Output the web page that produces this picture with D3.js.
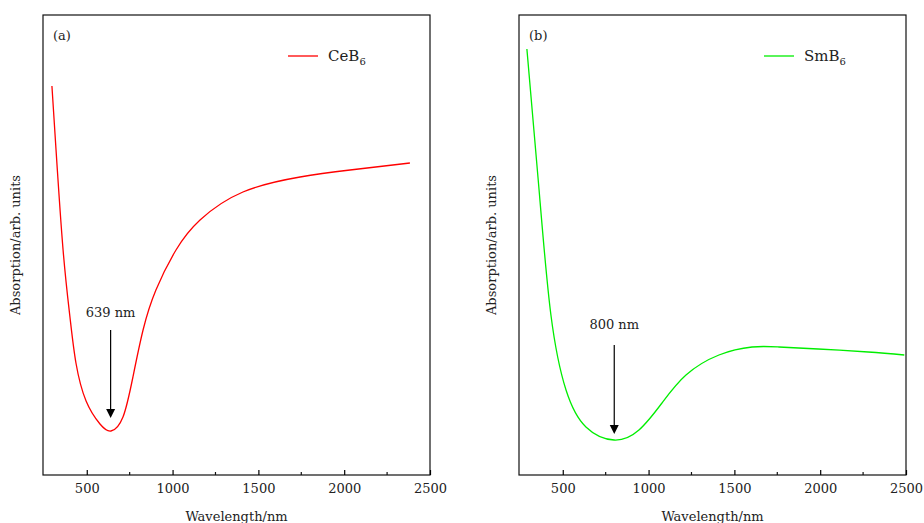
<!DOCTYPE html>
<html><head><meta charset="utf-8">
<script src="https://cdn.jsdelivr.net/npm/d3@7"></script>
<style>body{margin:0;background:#fff}text{font-family:"DejaVu Serif",serif;fill:#222}</style>
</head><body><div id="chart"></div>
<script>
// curve samples (wavelength nm, signal in px-units 0..460)
var ceWl  = [297, 321, 362, 402, 437, 496, 577, 641, 711, 769, 828, 903, 1020, 1160, 1410, 1743, 2034, 2383];
var ceVal = [389, 325, 225, 158, 112, 74, 51, 44, 58, 98, 145, 185, 225, 255, 283, 298, 305, 312];
var smWl  = [291, 362, 431, 519, 635, 799, 944, 1078, 1218, 1410, 1603, 1760, 1988, 2279, 2490];
var smVal = [426, 285, 160, 85, 48, 35, 45, 72, 100, 120, 128, 128, 126, 123, 120];
var xTicks = [500, 1000, 1500, 2000, 2500];
var minorTicks = [750, 1250, 1750, 2250];

var svg = d3.select("#chart").append("svg").attr("width", 924).attr("height", 523);

var panels = [
  {left: 43, right: 430, tag: "(a)", wl: ceWl, val: ceVal, color: "#ff0000", name: "Ce", min: 639, lab: "639 nm", labY: 317, arrTop: 330, arrBot: 418, ylabX: 20},
  {left: 519, right: 906, tag: "(b)", wl: smWl, val: smVal, color: "#00ee00", name: "Sm", min: 800, lab: "800 nm", labY: 329, arrTop: 345, arrBot: 434, ylabX: 496}
];
var plotTop = 15, plotBottom = 475;
var y = d3.scaleLinear().domain([0, 460]).range([plotBottom, plotTop]);

panels.forEach(function(p) {
  var x = d3.scaleLinear().domain([245, 2500]).range([p.left, p.right]);
  var g = svg.append("g");

  var line = d3.line().curve(d3.curveNatural)
    .x(function(d) { return x(d[0]); })
    .y(function(d) { return y(d[1]); });
  g.append("path").datum(d3.zip(p.wl, p.val))
    .attr("d", line).attr("fill", "none").attr("stroke", p.color).attr("stroke-width", 1.3);

  g.append("rect").attr("x", p.left).attr("y", plotTop)
    .attr("width", p.right - p.left).attr("height", plotBottom - plotTop)
    .attr("fill", "none").attr("stroke", "#111").attr("stroke-width", 1.2);

  var ax = g.append("g").attr("transform", "translate(0," + plotBottom + ")")
    .call(d3.axisBottom(x).tickValues(xTicks).tickFormat(d3.format("d")).tickSizeInner(-5).tickSizeOuter(0).tickPadding(9));
  ax.select(".domain").remove();
  ax.selectAll("text").attr("font-size", 13).style("font-family", "DejaVu Serif");
  ax.selectAll(".tick line").attr("stroke-width", 1.2);
  g.selectAll(".minor").data(minorTicks).enter().append("line")
    .attr("x1", x).attr("x2", x).attr("y1", plotBottom).attr("y2", plotBottom - 3)
    .attr("stroke", "#111").attr("stroke-width", 1.2);

  g.append("text").attr("x", (p.left + p.right) / 2).attr("y", 521)
    .attr("text-anchor", "middle").attr("font-size", 13).text("Wavelength/nm");
  g.append("text").attr("transform", "translate(" + p.ylabX + "," + 245 + ")rotate(-90)")
    .attr("text-anchor", "middle").attr("font-size", 13).text("Absorption/arb. units");
  g.append("text").attr("x", p.left + 10).attr("y", 40).attr("font-size", 13).text(p.tag);

  // legend
  g.append("line").attr("x1", p.left + 245).attr("x2", p.left + 275)
    .attr("y1", 56).attr("y2", 56).attr("stroke", p.color).attr("stroke-width", 1.3);
  var t = g.append("text").attr("x", p.left + 285).attr("y", 61).attr("font-size", 15);
  t.append("tspan").text(p.name + "B");
  t.append("tspan").attr("font-size", 10).attr("dy", 4).text("6");

  // minimum annotation
  var ax0 = x(p.min);
  g.append("text").attr("x", ax0).attr("y", p.labY).attr("text-anchor", "middle")
    .attr("font-size", 13).text(p.lab);
  g.append("line").attr("x1", ax0).attr("x2", ax0).attr("y1", p.arrTop).attr("y2", p.arrBot - 8)
    .attr("stroke", "#000").attr("stroke-width", 1.2);
  g.append("path").attr("d", "M" + (ax0 - 4.5) + "," + (p.arrBot - 9) + "L" + (ax0 + 4.5) + "," + (p.arrBot - 9) + "L" + ax0 + "," + p.arrBot + "Z")
    .attr("fill", "#000");
});
</script></body></html>
